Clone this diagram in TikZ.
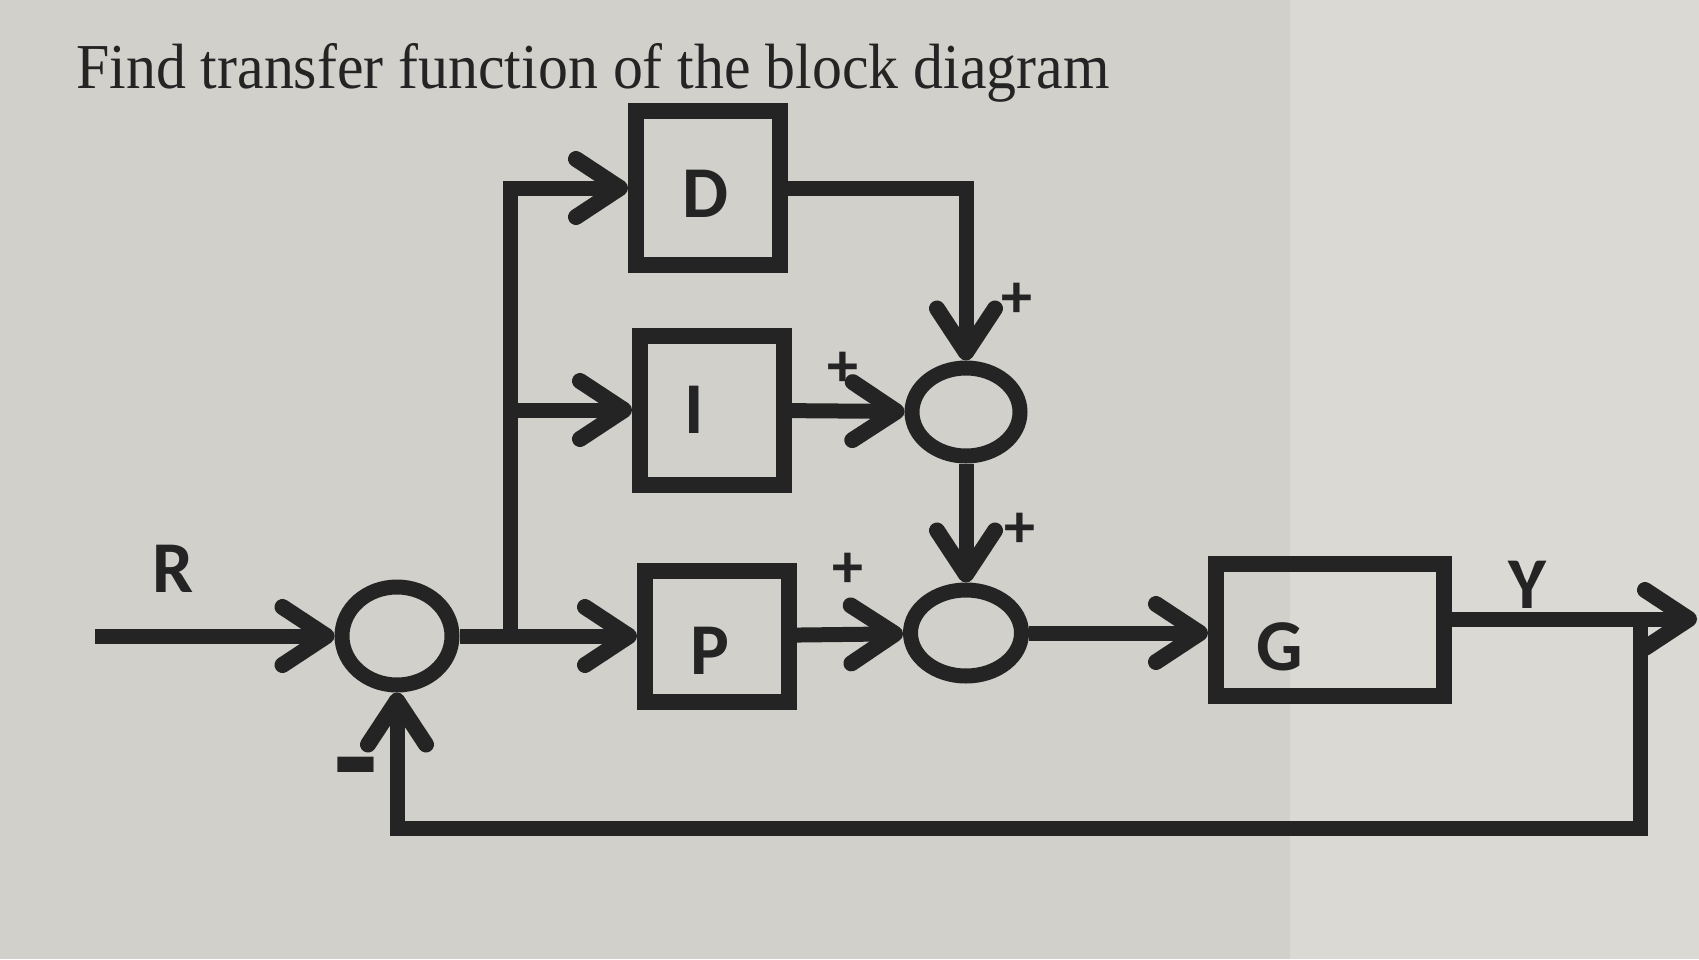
\documentclass[tikz,border=0pt]{standalone}
\usepackage{fontspec}
\setmainfont{Liberation Serif}
\newfontfamily\lblfont{Carlito}
\usetikzlibrary{arrows.meta,shapes.geometric}
\definecolor{paper}{RGB}{209,208,202}
\definecolor{paperR}{RGB}{219,217,211}
\definecolor{ink}{RGB}{36,36,36}
\begin{document}
\begin{tikzpicture}[x=1pt,y=-1pt,
  wire/.style={draw=ink,line width=15pt},
  arr/.style={wire,-{Straight Barb[length=44pt,width=58pt,round,line width=16pt]}},
  blk/.style={draw=ink,line width=16pt,rectangle,inner sep=0pt},
  summ/.style={draw=ink,line width=15pt,ellipse,inner sep=0pt},
  lbl/.style={font=\lblfont\bfseries\fontsize{73}{80}\selectfont,text=ink,inner sep=0pt},
  sgn/.style={font=\lblfont\bfseries\fontsize{62}{70}\selectfont,text=ink,inner sep=0pt}]
\useasboundingbox (0,0) rectangle (1699,959);
\fill[paper] (0,0) rectangle (1699,959);
\fill[paperR] (1290,0) rectangle (1699,959);

% title
\node[anchor=base west,inner sep=0pt,text=ink,font=\fontsize{64}{70}\selectfont] (title) at (76,88)
  {\scalebox{0.935}[1]{Find transfer function of the block diagram}};

% blocks
\node[blk,minimum width=144pt,minimum height=154pt] (D) at (708,188) {};
\node[blk,minimum width=144pt,minimum height=149pt] (I) at (712,410) {};
\node[blk,minimum width=144pt,minimum height=131pt] (P) at (717,636) {};
\node[blk,minimum width=228pt,minimum height=132pt] (G) at (1330,630) {};
\node[lbl] (Dl) at (705,194) {D};
\node[lbl] (Il) at (694,410) {I};
\node[lbl] (Pl) at (710,651) {P};
\node[lbl] (Gl) at (1280,647) {G};

% summing junctions
\node[summ,minimum width=110pt,minimum height=98pt] (S1) at (397,636) {};
\node[summ,minimum width=108pt,minimum height=88pt] (S2) at (966,412) {};
\node[summ,minimum width=111pt,minimum height=86pt] (S3) at (966,633) {};

% labels
\node[lbl] (R) at (173,569) {R};
\node[lbl] (Y) at (1527,585) {Y};
\node[sgn] (pD) at (1017,300) {+};
\node[sgn] (pI) at (843,369) {+};
\node[sgn] (pS) at (1020,530) {+};
\node[sgn] (pP) at (848,570) {+};
\node[lbl,anchor=base] (mF) at (356,814) {\scalebox{1.4}[2.4]{–}};

% coordinates
\coordinate (Rin) at (95,636);
\coordinate (br) at (510,636);
\coordinate (Yout) at (1697,619);
\coordinate (fbt) at (1640,619);
\coordinate (fbb) at (1640,828);

% connectors
\draw[arr] (Rin) -- (S1.west);
\draw[arr] (S1.east) -- (P.west);
\draw[arr] (br) |- (D.west);
\draw[arr] (br |- I.west) -- (I.west);
\draw[arr] (D.east) -| (S2.north);
\draw[arr] (I) -- (S2);
\draw[arr] (S2.south) -- (S3.north);
\draw[arr] (P) -- (S3);
\draw[arr] (S3.east) -- (S3.east -| G.west);
\draw[arr] ([yshift=11pt]G.east) -- (Yout);
\draw[arr] (fbt) -- (fbb) -| (S1.south);
\end{tikzpicture}
\end{document}
